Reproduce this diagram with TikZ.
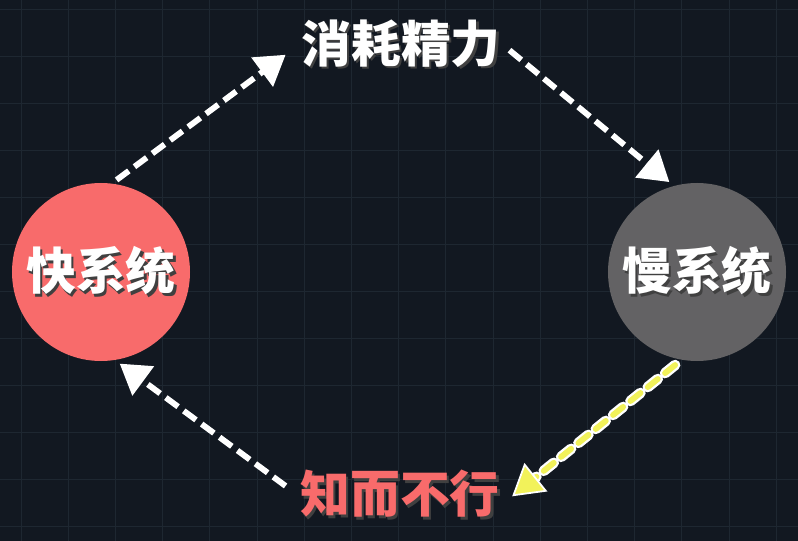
\documentclass[tikz,border=0pt]{standalone}
\usepackage{fontspec}
\newfontfamily\cjk{Noto Sans CJK SC}
\usetikzlibrary{arrows.meta,positioning}

\definecolor{bgdark}{HTML}{121821}
\definecolor{gridline}{HTML}{1E2731}
\definecolor{fastred}{HTML}{F86B6B}
\definecolor{slowgray}{HTML}{636264}
\definecolor{hiyellow}{HTML}{F2F25A}

% text with a soft drop shadow
\newcommand\shtext[1]{\makebox[0pt][l]{\hspace{2pt}\raisebox{-2pt}{\color{black!75}#1}}#1}

\begin{document}
\begin{tikzpicture}[x=0.03cm, y=-0.03cm,
 font=\cjk\bfseries\fontsize{42.5}{48}\selectfont,
 ball/.style={circle, minimum size=5.34cm, inner sep=0pt, text=white},
 word/.style={inner sep=2pt},
 flow/.style={draw=white, line width=5pt, dash pattern=on 13pt off 6pt,
   -{Triangle[length=25pt, width=30pt]}},
 hot/.style={draw=hiyellow, line width=5pt, line cap=round, dash pattern=on 11pt off 8pt,
   -{Triangle[length=26pt, width=31pt, fill=hiyellow, color=white, line width=1.5pt]}},
 hotrim/.style={draw=white, line width=9pt, line cap=round, dash pattern=on 11pt off 8pt}]

% background and grid
\fill[bgdark] (0,0) rectangle (798,541);
\useasboundingbox (0,0) rectangle (798,541);
\foreach \gx in {0,...,16}
  \draw[gridline, line width=0.8pt] (21+47.2*\gx,0) -- (21+47.2*\gx,541);
\foreach \gy in {0,...,11}
  \draw[gridline, line width=0.8pt] (0,9+47*\gy) -- (798,9+47*\gy);

% the two systems
\node[ball, fill=fastred] (fast) at (101,272) {\shtext{快系统}};
\node[ball, fill=slowgray] (slow) at (697,272) {\shtext{慢系统}};

% labels
\node[word, text=white] (cost) at (401,45) {\shtext{消耗精力}};
\node[word, text=fastred] (gap) at (400,495) {\shtext{知而不行}};

% cycle
\draw[flow, shorten <=5pt, shorten >=14pt] (fast.83) -- (cost.west);
\draw[flow, shorten <=7pt, shorten >=5pt] (cost.east) -- (slow.105);
\draw[hotrim, shorten <=7pt, shorten >=36pt] (slow.260) -- ([yshift=-8pt]gap.east);
\draw[hot, shorten <=7pt, shorten >=11pt] (slow.260) -- ([yshift=-8pt]gap.east);
\draw[flow, shorten <=13pt, shorten >=5pt] (gap.west) -- (fast.279);
\end{tikzpicture}
\end{document}
